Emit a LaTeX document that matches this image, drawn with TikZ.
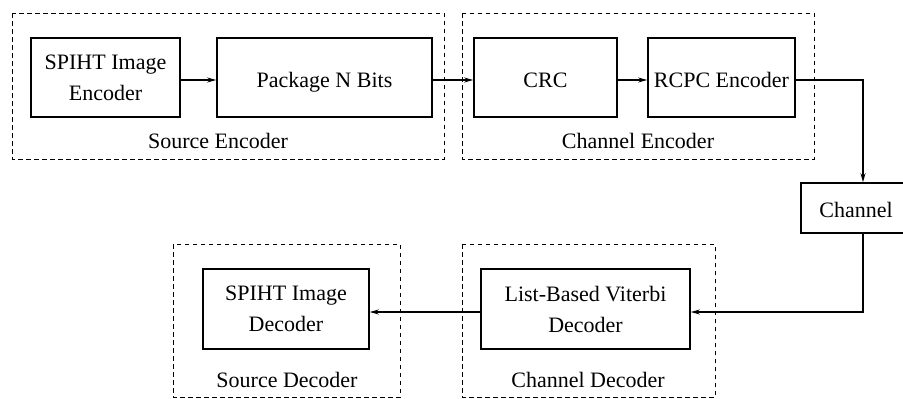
\documentclass[tikz,border=0pt]{standalone}
\usepackage{fontspec}
\setmainfont{Liberation Serif}
\usetikzlibrary{arrows.meta}
\begin{document}
\begin{tikzpicture}[x=1pt,y=-1pt,
  txt/.style={font=\fontsize{22}{31}\selectfont},
  blk/.style={draw,line width=1.6pt,inner sep=0pt,txt,align=center},
  one/.style={text height=19pt,text depth=0pt},
  grp/.style={draw,line width=0.9pt,dash pattern=on 4.5pt off 3.5pt},
  arr/.style={line width=1.2pt,-{Stealth[length=9pt,width=5pt]}}]
\useasboundingbox (0,0) rectangle (903,399);
% groups
\draw[grp] (12,13) rectangle (444,159);
\draw[grp] (462,13) rectangle (814,159);
\draw[grp] (173,244) rectangle (400,397);
\draw[grp] (462,244) rectangle (715,397);
\node[txt] (lse) at (218,141) {Source Encoder};
\node[txt] (lce) at (638,141) {Channel Encoder};
\node[txt] (lsd) at (287,380) {Source Decoder};
\node[txt] (lcd) at (588,380) {Channel Decoder};
% blocks
\node[blk,minimum width=149pt,minimum height=79pt] (spe) at (105.5,77.5) {SPIHT Image\\Encoder};
\node[blk,one,minimum width=215pt,minimum height=79pt] (pkg) at (324.5,77.5) {Package N Bits};
\node[blk,one,minimum width=143pt,minimum height=79pt] (crc) at (545.5,77.5) {CRC};
\node[blk,one,minimum width=147pt,minimum height=79pt] (rcpc) at (721.5,77.5) {RCPC Encoder};
\node[blk,one,minimum width=110pt,minimum height=50pt] (chan) at (856,208) {Channel};
\node[blk,minimum width=209pt,minimum height=80pt] (vit) at (585.5,309) {List-Based Viterbi\\Decoder};
\node[blk,minimum width=166pt,minimum height=80pt] (spd) at (286,309) {SPIHT Image\\Decoder};
% connectors
\draw[arr] (spe.east |- 0,80) -- (pkg.west |- 0,80);
\draw[arr] (pkg.east |- 0,80) -- (crc.west |- 0,80);
\draw[arr] (crc.east |- 0,80) -- (rcpc.west |- 0,80);
\coordinate (c1) at (863,80);
\coordinate (c2) at (863,312);
\draw[arr] (rcpc.east |- c1) -- (c1) -- (c1 |- chan.north);
\draw[arr] (c2 |- chan.south) -- (c2) -- (vit.east |- c2);
\draw[arr] (vit.west |- c2) -- (spd.east |- c2);
\end{tikzpicture}
\end{document}
